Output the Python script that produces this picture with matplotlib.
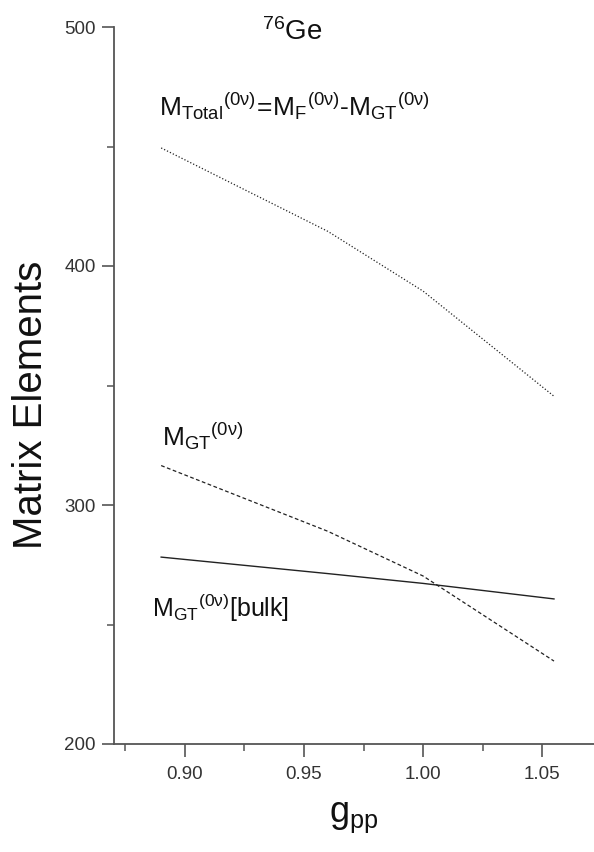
import numpy as np
import matplotlib
matplotlib.use('Agg')
import matplotlib.pyplot as plt
from matplotlib.ticker import MultipleLocator

plt.rcParams['font.family'] = ['Liberation Sans', 'DejaVu Sans']
plt.rcParams['mathtext.fontset'] = 'custom'
plt.rcParams['mathtext.rm'] = 'Liberation Sans'
plt.rcParams['mathtext.it'] = 'Liberation Sans:italic'
plt.rcParams['mathtext.bf'] = 'Liberation Sans:bold'

# g_pp values
gpp = [0.89, 0.96, 1.00, 1.055]
m_total = [449.4, 414.5, 389.5, 345.5]
m_gt = [316.5, 289.0, 270.3, 234.7]
m_gt_bulk = [278.2, 271.3, 267.2, 260.7]

fig = plt.figure(figsize=(5.94, 8.52), dpi=100)
ax = fig.add_axes([114 / 594, 1 - 744 / 852, 1 - 114 / 594, (744 - 27) / 852])

line_col = '#222222'
ax.plot(gpp, m_total, color=line_col, lw=0.9, linestyle=(0, (1, 1.6)))
ax.plot(gpp, m_gt, color=line_col, lw=0.9, linestyle=(0, (3, 2)))
ax.plot(gpp, m_gt_bulk, color=line_col, lw=1.0, linestyle='-')

ax.set_xlim(0.8702, 1.0718)
ax.set_ylim(200, 500)

ax.xaxis.set_minor_locator(MultipleLocator(0.025))
ax.yaxis.set_major_locator(MultipleLocator(100))
ax.yaxis.set_minor_locator(MultipleLocator(50))
ax.set_xticks([0.90, 0.95, 1.00, 1.05])
ax.set_xticklabels(['0.90', '0.95', '1.00', '1.05'])

for s in ['top', 'right']:
    ax.spines[s].set_visible(False)
for s in ['left', 'bottom']:
    ax.spines[s].set_color('#555555')
    ax.spines[s].set_linewidth(1.3)

ax.tick_params(which='major', direction='out', length=9, width=1.2, color='#555555',
               labelsize=13.5, labelcolor='#333333')
ax.tick_params(which='minor', direction='out', length=5, width=1.1, color='#555555')
ax.tick_params(axis='x', which='major', pad=7)
ax.tick_params(axis='y', which='major', pad=4)

ax.set_ylabel('Matrix Elements', fontsize=29, color='#111111')
ax.yaxis.set_label_coords(-0.133, 0.473)
ax.set_xlabel(r'$\mathrm{g_{pp}}$', fontsize=26, labelpad=12, color='#111111')

ax.text(0.889, 463, r'$\mathrm{M_{Total}{}^{(0\nu)}\!=\!M_F{}^{(0\nu)}\text{-}M_{GT}{}^{(0\nu)}}$',
        fontsize=19, va='baseline', ha='left', color='#111111')
ax.text(0.8903, 324.8, r'$\mathrm{M_{GT}{}^{(0\nu)}}$',
        fontsize=19, va='baseline', ha='left', color='#111111')
ax.text(0.886, 253.1, r'$\mathrm{M_{GT}{}^{(0\nu)}[bulk]}$',
        fontsize=18, va='baseline', ha='left', color='#111111')
ax.text(0.9324, 494.6, r'$\mathrm{{}^{76}Ge}$',
        fontsize=20, va='baseline', ha='left', color='#111111')

fig.savefig('out.png', dpi=100)
